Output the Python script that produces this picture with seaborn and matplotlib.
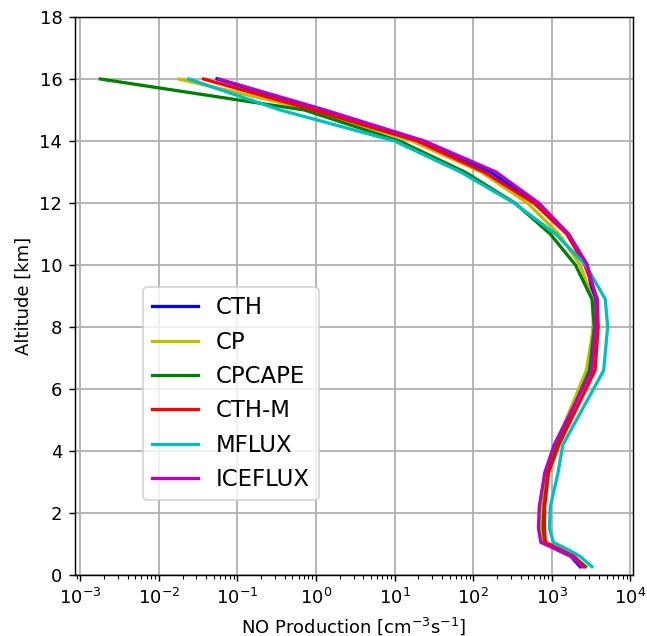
import matplotlib
matplotlib.use('Agg')
import matplotlib.pyplot as plt
import seaborn as sns
import pandas as pd

# altitude levels [km]
altitude = [0.27, 0.6, 0.8, 1.05, 1.5, 2.2, 3.3, 4.2, 6.6, 8.0, 8.9, 10, 11, 12, 13, 14, 15, 16]

# NO production [cm-3 s-1] per scheme
cth = [2290, 1740, 1200, 776, 760, 760, 850, 1120, 2950, 3390, 3390, 2820, 1620, 617, 166, 22, 1.12, 0.055]
cp = [2510, 1780, 1260, 760, 725, 740, 850, 1120, 2750, 3390, 3310, 2290, 1230, 490, 126, 16.6, 0.89, 0.018]
cpcape = [2690, 1900, 1320, 813, 776, 794, 890, 1170, 3020, 3470, 3240, 2000, 955, 339, 78, 11.5, 0.71, 0.0018]
cth_m = [2570, 1900, 1350, 830, 805, 810, 910, 1230, 3550, 3890, 3800, 2630, 1550, 590, 138, 19.5, 0.93, 0.037]
mflux = [3240, 2290, 1660, 1050, 933, 955, 1200, 1380, 4570, 5130, 4790, 2690, 1120, 331, 69, 10, 0.35, 0.024]
iceflux = [2400, 1820, 1230, 725, 676, 692, 813, 1070, 3240, 3630, 3720, 2820, 1640, 684, 195, 24, 1.3, 0.058]

schemes = ['CTH', 'CP', 'CPCAPE', 'CTH-M', 'MFLUX', 'ICEFLUX']
colors = ['b', 'y', 'g', 'r', 'c', 'm']
series = [cth, cp, cpcape, cth_m, mflux, iceflux]
xticks = [1e-3, 1e-2, 1e-1, 1e0, 1e1, 1e2, 1e3, 1e4]

fig = plt.figure(figsize=(647 / 130, 636 / 130), dpi=130)
ax = fig.add_axes([75 / 647, 1 - 575 / 636, 558 / 647, 558 / 636])

for name, col, vals in zip(schemes, colors, series):
    df = pd.DataFrame({'alt': altitude, 'no': vals})
    sns.lineplot(data=df, x='no', y='alt', orient='y', sort=False,
                 color=col, label=name, ax=ax, linewidth=1.8)

ax.set_xscale('log')
ax.set_xticks(xticks)
ax.set_ylim(0, 18)
ax.set_yticks(range(0, 19, 2))
ax.grid(True, linewidth=1.0)
ax.set_xlabel(r'NO Production [cm$^{-3}$s$^{-1}$]')
ax.set_ylabel('Altitude [km]')
ax.legend(loc='lower left', bbox_to_anchor=(0.122, 0.134), borderaxespad=0, fontsize=12.6)

fig.savefig('out.png', dpi=130)
